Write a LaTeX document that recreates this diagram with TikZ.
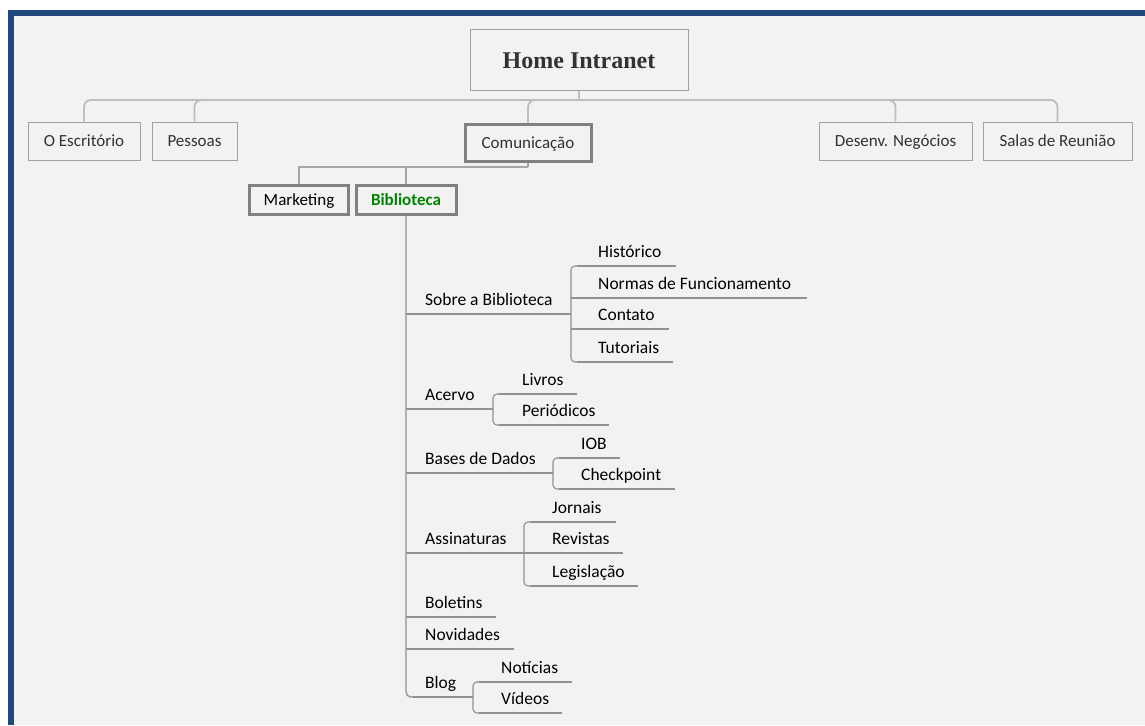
\documentclass[tikz,border=0pt]{standalone}
\usepackage{fontspec}
\setmainfont{Carlito}
\newfontfamily\homefont{Liberation Serif}
\definecolor{frameblue}{RGB}{31,73,125}
\definecolor{bggray}{RGB}{242,242,242}
\definecolor{boxgray}{RGB}{160,160,160}
\definecolor{thickgray}{RGB}{128,128,128}
\definecolor{txtgray}{RGB}{50,50,50}
\definecolor{linegray}{RGB}{190,190,190}
\definecolor{midgray}{RGB}{165,165,165}
\definecolor{treegray}{RGB}{145,145,145}
\definecolor{bibgreen}{RGB}{0,132,0}
\tikzset{
  homebox/.style={draw=boxgray, line width=1pt, fill=bggray, inner sep=0pt,
    font=\homefont\bfseries\fontsize{24}{28}\selectfont, text=txtgray,
    text height=16pt, text depth=0pt},
  topbox/.style={draw=boxgray, line width=1pt, fill=bggray, inner sep=0pt,
    minimum height=38pt, font=\fontsize{17}{20}\selectfont, text=txtgray,
    text height=11.3pt, text depth=0pt},
  thickbox/.style={draw=thickgray, line width=3pt, fill=bggray, inner sep=0pt,
    font=\fontsize{17}{20}\selectfont, text=black,
    text height=11.3pt, text depth=0pt},
  item/.style={anchor=base west, inner sep=0pt, font=\fontsize{17.5}{20}\selectfont, text=black},
  topline/.style={draw=linegray, line width=1.8pt},
  midline/.style={draw=midgray, line width=1.2pt},
  treeline/.style={draw=treegray, line width=1.1pt},
}
\newcommand\titem[6]{%
  \node[item] (#1) at (#2,#3-9) {#6};
  \draw[treeline] (#4,#3) -- (#5,#3);}
\newcommand\tbracket[3]{%
  \draw[treeline, rounded corners=4pt] (#1+6,#2) -- (#1,#2) -- (#1,#3) -- (#1+6,#3);}
\begin{document}
\begin{tikzpicture}[x=1pt,y=-1pt]
\useasboundingbox (0,0) rectangle (1145,725);
\fill[white] (0,0) rectangle (1145,725);
\fill[bggray] (8,10) rectangle (1145,725);
\fill[frameblue] (8,10) rectangle (1145,16);
\fill[frameblue] (8,10) rectangle (14,725);

% top level
\node[homebox, minimum width=218pt, minimum height=60pt] (home) at (579,60) {Home Intranet};
\coordinate (hl) at (579,100);
\node[topbox, minimum width=112pt] (escr) at (84,141) {O Escritório};
\node[topbox, minimum width=85pt] (pess) at (194.5,141) {Pessoas};
\node[thickbox, minimum width=126pt, minimum height=37pt, text=txtgray] (comu) at (528,143) {Comunicação};
\node[topbox, minimum width=153pt] (dese) at (895.5,141) {Desenv. Negócios};
\node[topbox, minimum width=149pt] (sala) at (1057.5,141) {Salas de Reunião};

\draw[topline] (home.south) -- (hl);
\foreach \c in {escr,pess,comu,dese,sala}
  \draw[topline, rounded corners=7pt] (hl) -| (\c.north);

% second level
\node[thickbox, minimum width=99pt, minimum height=29pt] (mark) at (299,200) {Marketing};
\node[thickbox, minimum width=100pt, minimum height=29pt, text=bibgreen,
  font=\bfseries\fontsize{17}{20}\selectfont] (bibl) at (406,200) {Biblioteca};
\coordinate (cl) at (528,167);
\draw[midline] (comu.south) -- (cl);
\draw[midline] (cl) -| (mark.north);
\draw[midline] (cl) -| (bibl.north);

% trunk
\coordinate (tb) at (406,697);
\draw[treeline, line width=1.3pt, rounded corners=5pt] (bibl.south) -- (tb) -- (413,697);

% Sobre a Biblioteca
\titem{sobre}{425}{314}{406}{571}{Sobre a Biblioteca}
\tbracket{571}{266}{362}
\titem{hist}{598}{266}{577}{676}{Histórico}
\titem{norm}{598}{298}{571}{807}{Normas de Funcionamento}
\titem{cont}{598}{329}{571}{669}{Contato}
\titem{tuto}{598}{362}{577}{673}{Tutoriais}

% Acervo
\titem{acer}{425}{409}{406}{493}{Acervo}
\tbracket{493}{394}{425}
\titem{livr}{522}{394}{499}{577}{Livros}
\titem{peri}{522}{425}{499}{609}{Periódicos}

% Bases de Dados
\titem{base}{425}{473}{406}{553}{Bases de Dados}
\tbracket{553}{458}{489}
\titem{iob}{581}{458}{559}{620}{IOB}
\titem{chec}{581}{489}{559}{675}{Checkpoint}

% Assinaturas
\titem{assi}{425}{553}{406}{524}{Assinaturas}
\tbracket{524}{522}{586}
\titem{jorn}{552}{522}{530}{616}{Jornais}
\titem{revi}{552}{553}{524}{623}{Revistas}
\titem{legi}{552}{586}{530}{638}{Legislação}

% Boletins, Novidades
\titem{bole}{425}{617}{406}{496}{Boletins}
\titem{novi}{425}{649}{406}{514}{Novidades}

% Blog
\titem{blog}{425}{697}{413}{473}{Blog}
\tbracket{473}{682}{713}
\titem{noti}{501}{682}{479}{572}{Notícias}
\titem{vide}{501}{713}{479}{562}{Vídeos}
\end{tikzpicture}
\end{document}
